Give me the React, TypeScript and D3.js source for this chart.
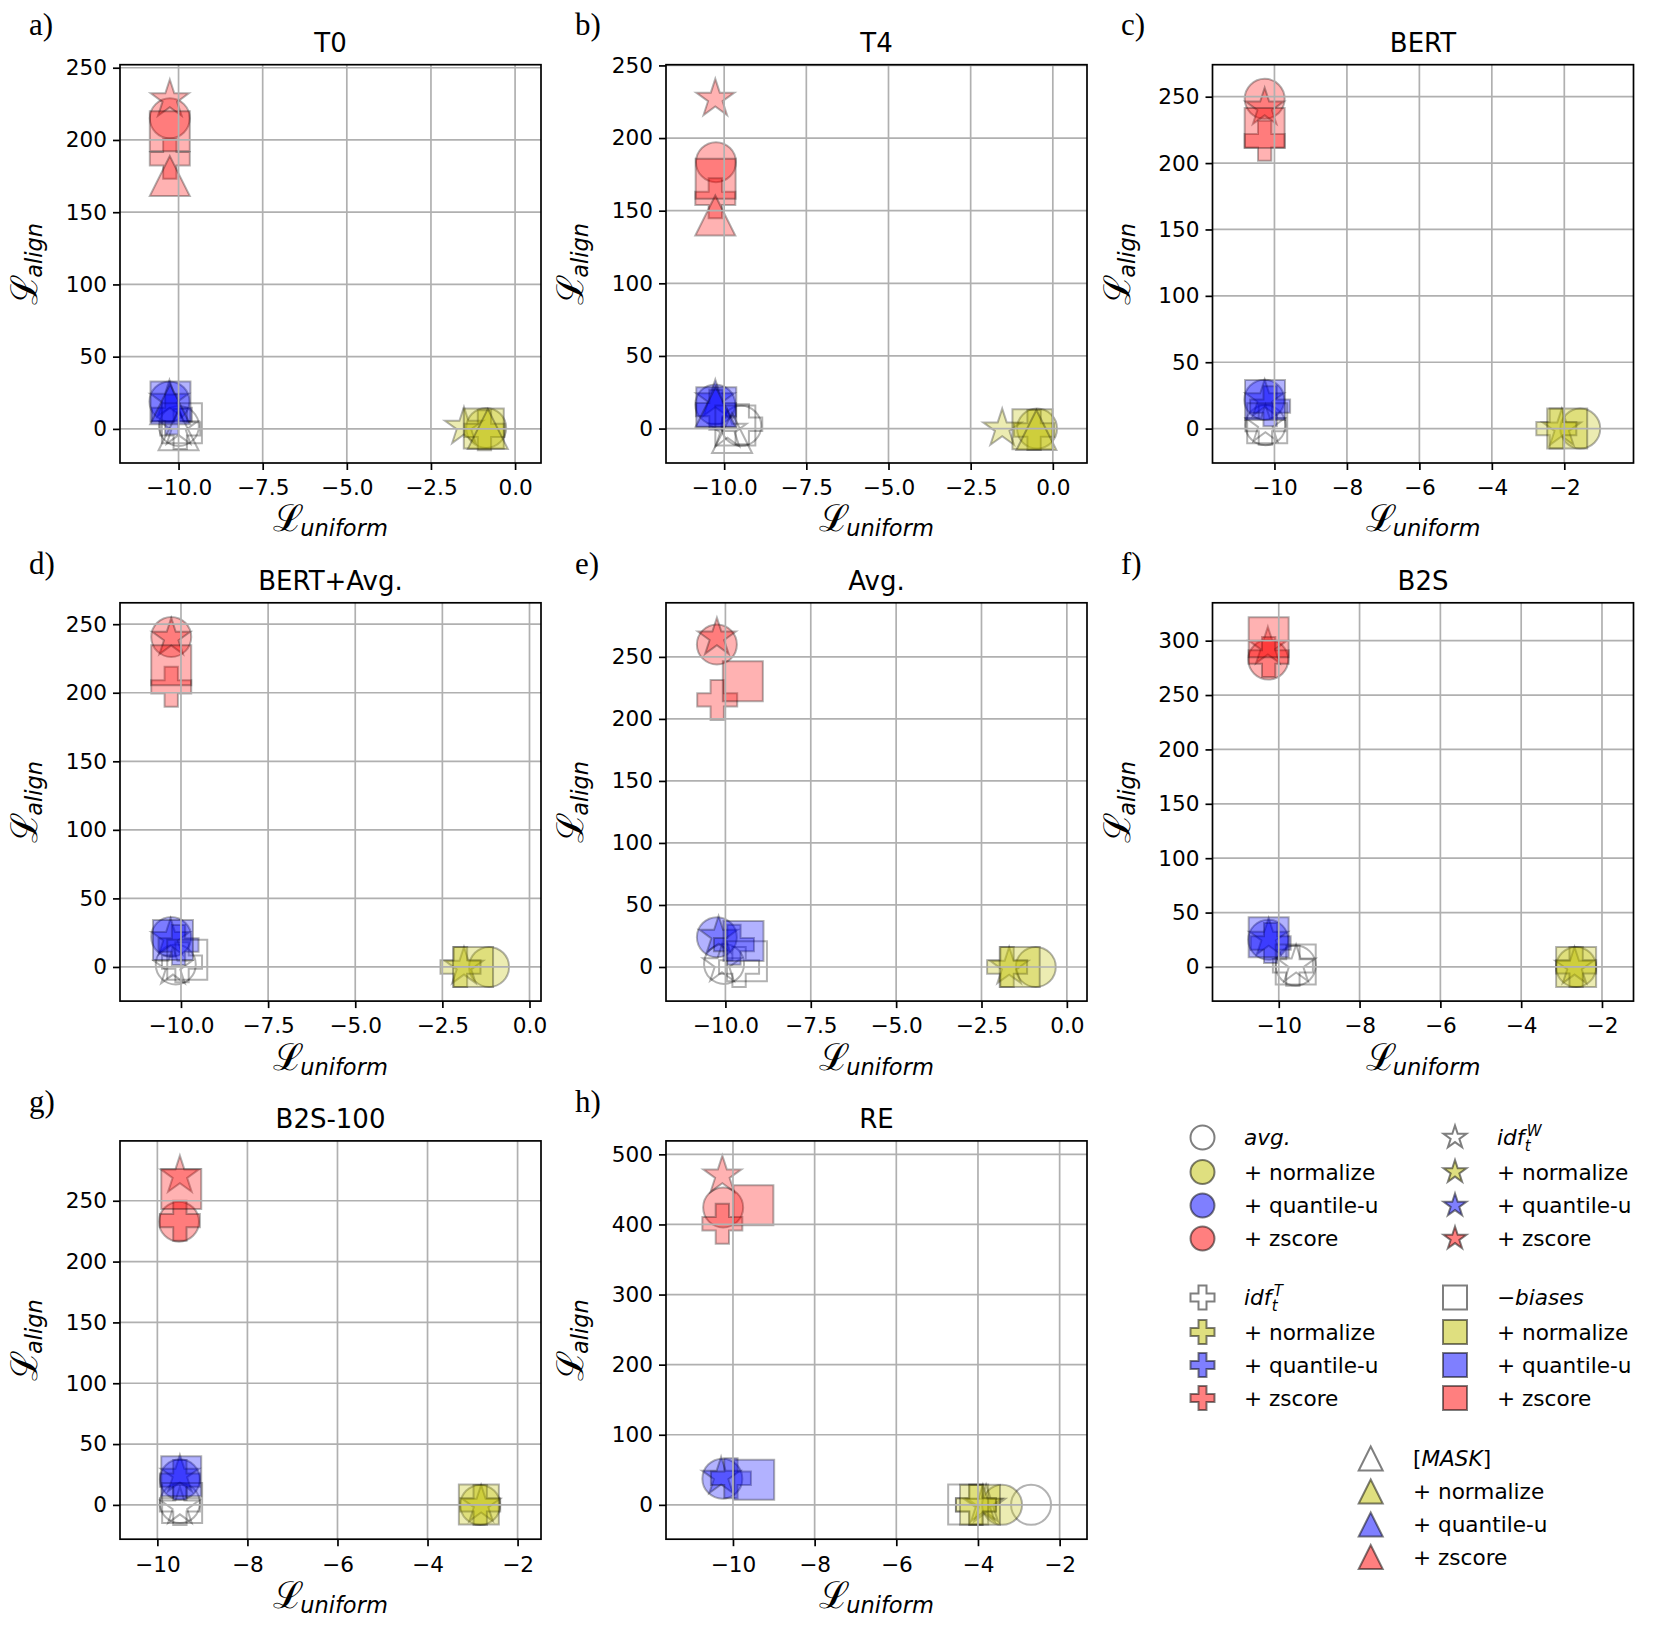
import React, { useEffect, useRef } from 'react';
import * as d3 from 'd3';

// [method, variant, L_uniform, L_align]
type Point = [string, string, number, number];

const titles = ['T0', 'T4', 'BERT', 'BERT+Avg.', 'Avg.', 'B2S', 'B2S-100', 'RE'];
const letters = ['a)', 'b)', 'c)', 'd)', 'e)', 'f)', 'g)', 'h)'];

const xLimits: [number, number][] = [
  [-11.74, 0.77], [-11.77, 1.04], [-11.71, -0.09],
  [-11.75, 0.33], [-11.74, 0.59], [-11.64, -1.22],
  [-10.83, -1.48], [-11.64, -1.33],
];
const yLimits: [number, number][] = [
  [-23.6, 252.1], [-23.7, 250.5], [-25.9, 274.1],
  [-24.9, 265.6], [-27.5, 293.6], [-31.4, 334.8],
  [-28.2, 299.2], [-49, 519.2],
];

const xTicksHalf = [-10, -7.5, -5, -2.5, 0];
const xTicksEven = [-10, -8, -6, -4, -2];
const xTickSets = [xTicksHalf, xTicksHalf, xTicksEven, xTicksHalf, xTicksHalf, xTicksEven, xTicksEven, xTicksEven];
const yTicks250 = [0, 50, 100, 150, 200, 250];
const yTicks300 = [0, 50, 100, 150, 200, 250, 300];
const yTicks500 = [0, 100, 200, 300, 400, 500];
const yTickSets = [yTicks250, yTicks250, yTicks250, yTicks250, yTicks250, yTicks300, yTicks250, yTicks500];

const t0Points: Point[] = [
  ['avg', 'plain', -9.99, 2], ['avg', 'normalize', -0.86, 0.7], ['avg', 'quantile-u', -10.27, 19], ['avg', 'zscore', -10.26, 215],
  ['idfW', 'plain', -10.0, 1], ['idfW', 'normalize', -1.52, 1.4], ['idfW', 'quantile-u', -10.27, 20], ['idfW', 'zscore', -10.26, 228],
  ['idfT', 'plain', -9.95, 0], ['idfT', 'normalize', -0.91, -1], ['idfT', 'quantile-u', -10.2, 10], ['idfT', 'zscore', -10.26, 187],
  ['biases', 'plain', -9.9, 4], ['biases', 'normalize', -0.93, 0.2], ['biases', 'quantile-u', -10.24, 19], ['biases', 'zscore', -10.26, 206],
  ['mask', 'plain', -10.0, -1], ['mask', 'normalize', -0.81, 0], ['mask', 'quantile-u', -10.25, 17], ['mask', 'zscore', -10.26, 175],
];
const t4Points: Point[] = [
  ['avg', 'plain', -9.48, 1.9], ['avg', 'normalize', -0.48, 0], ['avg', 'quantile-u', -10.27, 16.6], ['avg', 'zscore', -10.25, 183.4],
  ['idfW', 'plain', -9.9, -1], ['idfW', 'normalize', -1.54, 0], ['idfW', 'quantile-u', -10.27, 20], ['idfW', 'zscore', -10.27, 227],
  ['idfT', 'plain', -9.45, 3], ['idfT', 'normalize', -0.57, -1], ['idfT', 'quantile-u', -10.25, 13], ['idfT', 'zscore', -10.27, 158.5],
  ['biases', 'plain', -9.66, 2.1], ['biases', 'normalize', -0.62, -0.5], ['biases', 'quantile-u', -10.24, 14.7], ['biases', 'zscore', -10.26, 172],
  ['mask', 'plain', -9.76, -3], ['mask', 'normalize', -0.5, -1], ['mask', 'quantile-u', -10.26, 15], ['mask', 'zscore', -10.27, 146.7],
];
const bertPoints: Point[] = [
  ['avg', 'plain', -10.25, 2.6], ['avg', 'normalize', -1.56, 0], ['avg', 'quantile-u', -10.28, 21.8], ['avg', 'zscore', -10.27, 248.4],
  ['idfW', 'plain', -10.25, 3], ['idfW', 'normalize', -2.07, 0], ['idfW', 'quantile-u', -10.27, 22], ['idfW', 'zscore', -10.27, 241.7],
  ['idfT', 'plain', -10.25, 3], ['idfT', 'normalize', -2.22, 0], ['idfT', 'quantile-u', -10.12, 16.9], ['idfT', 'zscore', -10.27, 216.8],
  ['biases', 'plain', -10.2, 4], ['biases', 'normalize', -1.92, 0], ['biases', 'quantile-u', -10.26, 21.5], ['biases', 'zscore', -10.27, 226.5],
];
const bertAvgPoints: Point[] = [
  ['avg', 'plain', -10.15, 1.8], ['avg', 'normalize', -1.16, 0], ['avg', 'quantile-u', -10.28, 21.9], ['avg', 'zscore', -10.28, 240.7],
  ['idfW', 'plain', -10.23, 0], ['idfW', 'normalize', -1.88, 0], ['idfW', 'quantile-u', -10.3, 21], ['idfW', 'zscore', -10.28, 240],
  ['idfT', 'plain', -9.97, 3.5], ['idfT', 'normalize', -1.98, 0], ['idfT', 'quantile-u', -10.07, 16], ['idfT', 'zscore', -10.28, 204.3],
  ['biases', 'plain', -9.82, 5.3], ['biases', 'normalize', -1.62, 0], ['biases', 'quantile-u', -10.23, 19.6], ['biases', 'zscore', -10.28, 220],
];
const avgPoints: Point[] = [
  ['avg', 'plain', -10.04, 2.5], ['avg', 'normalize', -0.91, 0], ['avg', 'quantile-u', -10.25, 24], ['avg', 'zscore', -10.25, 260],
  ['idfW', 'plain', -10.1, 2], ['idfW', 'normalize', -1.69, 0], ['idfW', 'quantile-u', -10.2, 25], ['idfW', 'zscore', -10.25, 265.5],
  ['idfT', 'plain', -9.6, 0], ['idfT', 'normalize', -1.75, 0], ['idfT', 'quantile-u', -9.75, 18], ['idfT', 'zscore', -10.24, 215.3],
  ['biases', 'plain', -9.37, 4.7], ['biases', 'normalize', -1.38, 0], ['biases', 'quantile-u', -9.47, 21], ['biases', 'zscore', -9.49, 230.3],
];
const b2sPoints: Point[] = [
  ['avg', 'plain', -9.58, 1.3], ['avg', 'normalize', -2.64, 0], ['avg', 'quantile-u', -10.26, 25], ['avg', 'zscore', -10.26, 282.6],
  ['idfW', 'plain', -9.57, 2], ['idfW', 'normalize', -2.68, 0], ['idfW', 'quantile-u', -10.25, 26.6], ['idfW', 'zscore', -10.27, 294.3],
  ['idfT', 'plain', -9.65, 1], ['idfT', 'normalize', -2.64, 0], ['idfT', 'quantile-u', -10.2, 22], ['idfT', 'zscore', -10.25, 285],
  ['biases', 'plain', -9.58, 2.2], ['biases', 'normalize', -2.64, 0], ['biases', 'quantile-u', -10.25, 27.2], ['biases', 'zscore', -10.25, 303.2],
];
const b2s100Points: Point[] = [
  ['avg', 'plain', -9.5, 1.5], ['avg', 'normalize', -2.83, 0], ['avg', 'quantile-u', -9.5, 21], ['avg', 'zscore', -9.52, 232.8],
  ['idfW', 'plain', -9.5, -1.5], ['idfW', 'normalize', -2.81, 0], ['idfW', 'quantile-u', -9.5, 24.7], ['idfW', 'zscore', -9.5, 270.7],
  ['idfT', 'plain', -9.5, 0], ['idfT', 'normalize', -2.83, 0], ['idfT', 'quantile-u', -9.5, 20.4], ['idfT', 'zscore', -9.5, 233.6],
  ['biases', 'plain', -9.45, 1.5], ['biases', 'normalize', -2.86, 0.3], ['biases', 'quantile-u', -9.47, 23.6], ['biases', 'zscore', -9.47, 259.6],
];
const rePoints: Point[] = [
  ['avg', 'plain', -2.7, 0], ['avg', 'normalize', -3.41, 0], ['avg', 'quantile-u', -10.26, 37.4], ['avg', 'zscore', -10.24, 424.2],
  ['idfW', 'plain', -3.8, 0], ['idfW', 'normalize', -3.88, 0], ['idfW', 'quantile-u', -10.29, 40], ['idfW', 'zscore', -10.26, 469.7],
  ['idfT', 'plain', -4.05, 0], ['idfT', 'normalize', -4.05, 0], ['idfT', 'quantile-u', -10.05, 38], ['idfT', 'zscore', -10.26, 401],
  ['biases', 'plain', -4.24, 0.5], ['biases', 'normalize', -3.95, 0], ['biases', 'quantile-u', -9.48, 35.9], ['biases', 'zscore', -9.5, 427.3],
];

const panels = [t0Points, t4Points, bertPoints, bertAvgPoints, avgPoints, b2sPoints, b2s100Points, rePoints];

const shapeOf: Record<string, string> = { avg: 'circle', idfW: 'star', idfT: 'plus', biases: 'square', mask: 'triangle' };
const variantColor: Record<string, string> = { plain: '#ffffff', normalize: '#bfbf00', 'quantile-u': '#0000ff', zscore: '#ff0000' };
const variantLabels: Record<string, string> = { normalize: '+ normalize', 'quantile-u': '+ quantile-u', zscore: '+ zscore' };
const variants = ['plain', 'normalize', 'quantile-u', 'zscore'];

// layout (px)
const W = 421;
const H = 398.3;
const colLeft = [120, 666, 1212.5];
const rowTop = [64.7, 602.8, 1140.9];
const FONT = 'DejaVu Sans';
const FS = 21.6;

// matplotlib-like marker outlines, s = full marker extent in px
function markerPath(shape: string, s: number): string {
  const h = s / 2;
  if (shape === 'square') return `M${-h},${-h}H${h}V${h}H${-h}Z`;
  if (shape === 'triangle') return `M0,${-h}L${h},${h}L${-h},${h}Z`;
  if (shape === 'plus') {
    const u = s / 6;
    const pts = [[-1, -3], [1, -3], [1, -1], [3, -1], [3, 1], [1, 1], [1, 3], [-1, 3], [-1, 1], [-3, 1], [-3, -1], [-1, -1]];
    return 'M' + pts.map(([a, b]) => `${a * u},${b * u}`).join('L') + 'Z';
  }
  if (shape === 'star') {
    const ri = h * 0.381966;
    const pts: string[] = [];
    for (let k = 0; k < 10; k++) {
      const r = k % 2 === 0 ? h : ri;
      const a = -Math.PI / 2 + (k * Math.PI) / 5;
      pts.push(`${r * Math.cos(a)},${r * Math.sin(a)}`);
    }
    return 'M' + pts.join('L') + 'Z';
  }
  const p = d3.path();
  p.arc(0, 0, h, 0, 2 * Math.PI);
  p.closePath();
  return p.toString();
}

// legend header with italics / sub- and superscripts
function headerLabel(sel: d3.Selection<SVGTextElement, unknown, null, undefined>, method: string) {
  if (method === 'avg') {
    sel.append('tspan').attr('font-style', 'italic').text('avg.');
  } else if (method === 'idfW' || method === 'idfT') {
    sel.append('tspan').attr('font-style', 'italic').text('idf');
    const base = (sel.node() as SVGTextElement).getComputedTextLength();
    const x0 = +sel.attr('x');
    sel.append('tspan').attr('font-style', 'italic').attr('font-size', 15).attr('x', x0 + base + 0.5).attr('dy', 6).text('t');
    sel.append('tspan').attr('font-style', 'italic').attr('font-size', 15).attr('x', x0 + base + 2.5).attr('dy', -15)
      .text(method === 'idfW' ? 'W' : 'T');
  } else if (method === 'biases') {
    sel.append('tspan').text('−');
    sel.append('tspan').attr('font-style', 'italic').text('biases');
  } else {
    sel.append('tspan').text('[');
    sel.append('tspan').attr('font-style', 'italic').text('MASK');
    sel.append('tspan').text(']');
  }
}

const legendGroups = [
  { method: 'avg', mx: 1202.5, lx: 1244, rows: [1137.5, 1172, 1205.5, 1238.5] },
  { method: 'idfW', mx: 1455, lx: 1497, rows: [1137.5, 1172, 1205.5, 1238.5] },
  { method: 'idfT', mx: 1202.5, lx: 1244, rows: [1297.5, 1332, 1365, 1398] },
  { method: 'biases', mx: 1455, lx: 1497, rows: [1297.5, 1332, 1365, 1398] },
  { method: 'mask', mx: 1370.7, lx: 1413, rows: [1458.5, 1491.5, 1524.5, 1557] },
];

export default function App() {
  const ref = useRef<SVGSVGElement>(null);

  useEffect(() => {
    const svg = d3.select(ref.current);
    svg.selectAll('*').remove();
    svg.append('rect').attr('width', 1662).attr('height', 1635).attr('fill', '#fff');

    panels.forEach((points, i) => {
      const col = i % 3;
      const row = Math.floor(i / 3);
      const g = svg.append('g').attr('transform', `translate(${colLeft[col]},${rowTop[row]})`);
      const x = d3.scaleLinear().domain(xLimits[i]).range([0, W]);
      const y = d3.scaleLinear().domain(yLimits[i]).range([H, 0]);

      const clipId = `clip-${i}`;
      g.append('clipPath').attr('id', clipId).append('rect').attr('width', W).attr('height', H);

      // markers
      g.append('g')
        .attr('clip-path', `url(#${clipId})`)
        .selectAll('path')
        .data(points)
        .join('path')
        .attr('transform', (d) => `translate(${x(d[2])},${y(d[3])})`)
        .attr('d', (d) => markerPath(shapeOf[d[0]], 40))
        .attr('fill', (d) => variantColor[d[1]])
        .attr('fill-opacity', (d) => (d[1] === 'plain' ? 0 : 0.3))
        .attr('stroke', '#000')
        .attr('stroke-opacity', 0.3)
        .attr('stroke-width', 2);

      // grid (drawn above the scatter, like matplotlib)
      const grid = g.append('g').attr('stroke', '#b0b0b0').attr('stroke-width', 1.7);
      grid.selectAll('line.gx').data(xTickSets[i]).join('line')
        .attr('class', 'gx')
        .attr('x1', (d) => x(d)).attr('x2', (d) => x(d))
        .attr('y1', 0).attr('y2', H);
      grid.selectAll('line.gy').data(yTickSets[i]).join('line')
        .attr('class', 'gy')
        .attr('y1', (d) => y(d)).attr('y2', (d) => y(d))
        .attr('x1', 0).attr('x2', W);

      // axes
      const fmt = xTickSets[i] === xTicksHalf ? d3.format('.1f') : d3.format('d');
      const gx = g.append('g').attr('transform', `translate(0,${H})`)
        .call(d3.axisBottom(x).tickValues(xTickSets[i]).tickFormat(fmt as any).tickSize(7).tickPadding(10).tickSizeOuter(0));
      gx.select('.domain').remove();
      gx.attr('font-family', FONT).attr('font-size', FS);
      gx.selectAll('line').attr('stroke-width', 1.7);

      const gy = g.append('g')
        .call(d3.axisLeft(y).tickValues(yTickSets[i]).tickFormat(d3.format('d') as any).tickSize(7).tickPadding(6).tickSizeOuter(0));
      gy.select('.domain').remove();
      gy.attr('font-family', FONT).attr('font-size', FS);
      gy.selectAll('line').attr('stroke-width', 1.7);

      // spines
      g.append('rect').attr('width', W).attr('height', H)
        .attr('fill', 'none').attr('stroke', '#000').attr('stroke-width', 1.7);

      // title
      g.append('text').attr('x', W / 2).attr('y', -13)
        .attr('text-anchor', 'middle').attr('font-family', FONT).attr('font-size', 26)
        .text(titles[i]);

      // x label
      const xl = g.append('text').attr('x', W / 2).attr('y', H + 68.5)
        .attr('text-anchor', 'middle').attr('font-family', FONT);
      xl.append('tspan').attr('font-family', 'DejaVu Serif').attr('font-size', 37).text('ℒ');
      xl.append('tspan').attr('font-style', 'italic').attr('font-size', 22.5).attr('dx', -4).attr('dy', 5).text('uniform');

      // y label
      const yl = g.append('text')
        .attr('transform', `translate(-83,${H / 2}) rotate(-90)`)
        .attr('text-anchor', 'middle').attr('font-family', FONT);
      yl.append('tspan').attr('font-family', 'DejaVu Serif').attr('font-size', 37).text('ℒ');
      yl.append('tspan').attr('font-style', 'italic').attr('font-size', 22.5).attr('dx', -4).attr('dy', 5).text('align');

      // panel letter
      svg.append('text')
        .attr('x', [29, 575, 1121][col]).attr('y', [35, 573.5, 1111.5][row])
        .attr('font-family', 'Liberation Serif').attr('font-size', 31)
        .text(letters[i]);
    });

    // legend
    const legend = svg.append('g');
    legendGroups.forEach((grp) => {
      variants.forEach((v, k) => {
        const cy = grp.rows[k];
        legend.append('path')
          .attr('transform', `translate(${grp.mx},${cy})`)
          .attr('d', markerPath(shapeOf[grp.method], 24))
          .attr('fill', variantColor[v])
          .attr('fill-opacity', v === 'plain' ? 1 : 0.5)
          .attr('stroke', '#000')
          .attr('stroke-opacity', 0.5)
          .attr('stroke-width', 2);
        const t = legend.append('text')
          .attr('x', grp.lx).attr('y', cy + 7.5)
          .attr('font-family', FONT).attr('font-size', FS);
        if (v === 'plain') headerLabel(t as any, grp.method);
        else t.text(variantLabels[v]);
      });
    });

    return () => {
      svg.selectAll('*').remove();
    };
  }, []);

  return (
    <svg
      ref={ref}
      width={1662}
      height={1635}
      style={{ position: 'absolute', left: 0, top: 0, display: 'block' }}
    />
  );
}
